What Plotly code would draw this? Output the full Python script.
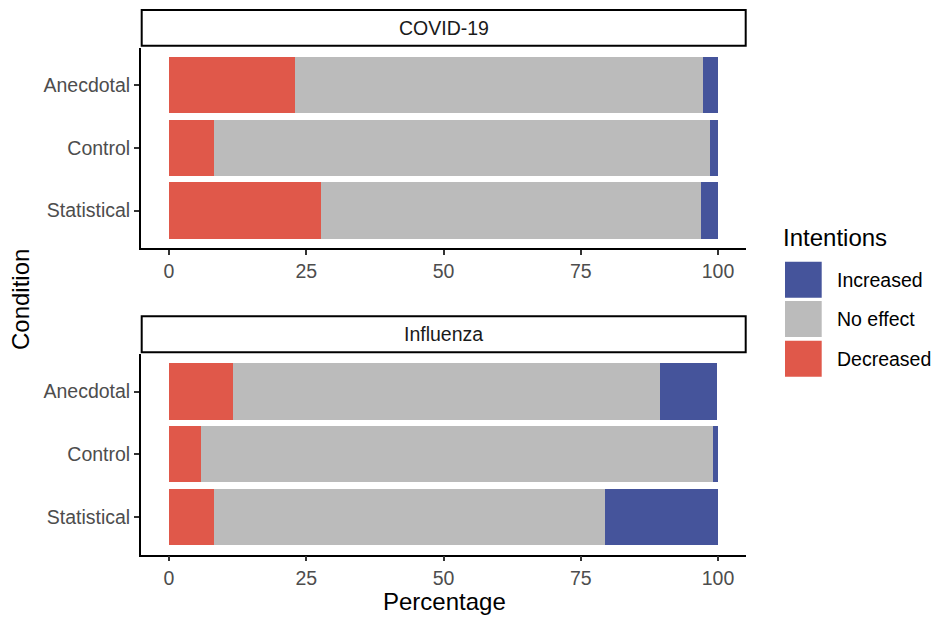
import plotly.graph_objects as go

# ---- data ----
conditions = ["Anecdotal", "Control", "Statistical"]
panels = ["COVID-19", "Influenza"]
intentions = ["Decreased", "No effect", "Increased"]

covid_decreased = [23.0, 8.2, 27.6]
covid_noeffect = [74.2, 90.3, 69.3]
covid_increased = [2.8, 1.5, 3.1]

flu_decreased = [11.7, 5.8, 8.2]
flu_noeffect = [77.7, 93.2, 71.2]
flu_increased = [10.5, 1.0, 20.6]

x_ticks = [0, 25, 50, 75, 100]

# ---- style ----
W, H = 937, 617
colors = {"Decreased": "#E0584A", "No effect": "#BBBBBB", "Increased": "#45549B"}
FONT = "Liberation Sans, Arial, Helvetica, sans-serif"
TICK_COLOR = "#4D4D4D"

def px(x):
    return x / W

def py(y):
    return 1 - y / H

panel_data = {
    "COVID-19": {"Decreased": covid_decreased, "No effect": covid_noeffect, "Increased": covid_increased},
    "Influenza": {"Decreased": flu_decreased, "No effect": flu_noeffect, "Increased": flu_increased},
}

fig = go.Figure()
axis_ids = {"COVID-19": ("x", "y"), "Influenza": ("x2", "y2")}
for panel in panels:
    xa, ya = axis_ids[panel]
    for it in intentions:
        fig.add_trace(go.Bar(
            y=conditions, x=panel_data[panel][it], orientation="h",
            name=it, marker=dict(color=colors[it], line=dict(width=0)),
            xaxis=xa, yaxis=ya, showlegend=False,
            hovertemplate=f"{panel}<br>%{{y}}<br>{it}: %{{x}}%<extra></extra>",
        ))

x_dom = [px(141), px(746)]
top_dom = [py(248.1), py(47.6)]
bot_dom = [py(554.5), py(353.9)]

xcommon = dict(range=[-5.1, 105.1], tickvals=x_ticks, ticktext=[str(t) for t in x_ticks],
               showline=True, linecolor="black", linewidth=1.8, mirror=False,
               ticks="outside", ticklen=5, tickwidth=1.6, tickcolor="#333333",
               showgrid=False, zeroline=False, domain=x_dom,
               tickfont=dict(family=FONT, size=19.5, color=TICK_COLOR))
ycommon = dict(range=[2.6, -0.6], categoryorder="array", categoryarray=conditions,
               showline=True, linecolor="black", linewidth=1.8,
               ticks="outside", ticklen=5, tickwidth=1.6, tickcolor="#333333",
               showgrid=False, zeroline=False,
               tickfont=dict(family=FONT, size=19.5, color=TICK_COLOR))

fig.update_layout(
    width=W, height=H,
    margin=dict(l=0, r=0, t=0, b=0),
    paper_bgcolor="white", plot_bgcolor="white",
    barmode="stack", bargap=0.1,
    font=dict(family=FONT, color="black"),
    xaxis=dict(anchor="y", **xcommon),
    yaxis=dict(anchor="x", domain=top_dom, **ycommon),
    xaxis2=dict(anchor="y2", **xcommon),
    yaxis2=dict(anchor="x2", domain=bot_dom, **ycommon),
    showlegend=False,
)

shapes = []
annotations = []

# facet strips
strip_boxes = {"COVID-19": (10, 45.7), "Influenza": (316.3, 352.3)}
for panel in panels:
    y0, y1 = strip_boxes[panel]
    shapes.append(dict(type="rect", xref="paper", yref="paper",
                       x0=px(141.7), x1=px(745.7), y0=py(y1), y1=py(y0),
                       line=dict(color="black", width=2), fillcolor="white"))
    annotations.append(dict(text=panel, xref="paper", yref="paper",
                            x=(px(141.7) + px(745.7)) / 2, y=py((y0 + y1) / 2),
                            showarrow=False, xanchor="center", yanchor="middle",
                            font=dict(family=FONT, size=19.5, color="#1A1A1A")))

# axis titles
annotations.append(dict(text="Percentage", xref="paper", yref="paper",
                        x=px(444), y=py(601), showarrow=False,
                        xanchor="center", yanchor="middle",
                        font=dict(family=FONT, size=24, color="black")))
annotations.append(dict(text="Condition", xref="paper", yref="paper",
                        x=px(20), y=py(300), showarrow=False, textangle=-90,
                        xanchor="center", yanchor="middle",
                        font=dict(family=FONT, size=24, color="black")))

# legend (drawn manually to match large ggplot keys)
annotations.append(dict(text="Intentions", xref="paper", yref="paper",
                        x=px(781), y=py(238), showarrow=False,
                        xanchor="left", yanchor="middle",
                        font=dict(family=FONT, size=24, color="black")))
legend_order = ["Increased", "No effect", "Decreased"]
key_tops = [261.7, 301, 340.7]
for name, top in zip(legend_order, key_tops):
    shapes.append(dict(type="rect", xref="paper", yref="paper",
                       x0=px(785), x1=px(821.7), y0=py(top + 36), y1=py(top),
                       line=dict(width=0), fillcolor=colors[name]))
    annotations.append(dict(text=name, xref="paper", yref="paper",
                            x=px(835), y=py(top + 18), showarrow=False,
                            xanchor="left", yanchor="middle",
                            font=dict(family=FONT, size=19.5, color="black")))

fig.update_layout(shapes=shapes, annotations=annotations)

fig.write_html(
    "out.html",
    config={"displayModeBar": False},
    post_script="document.body.style.margin='0';document.body.style.padding='0';"
                "document.documentElement.style.overflow='hidden';",
)
